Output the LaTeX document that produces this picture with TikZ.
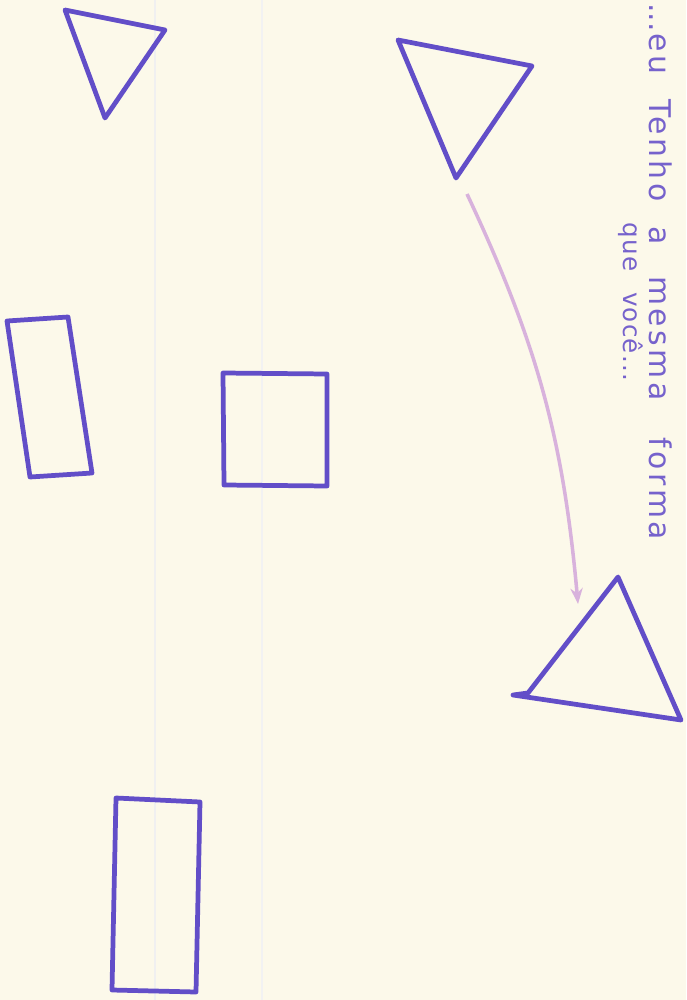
\documentclass[tikz,border=0pt]{standalone}
\usepackage{fontspec}
\setmainfont{DejaVu Sans}
\newfontfamily\hand[LetterSpace=12]{DejaVu Sans}
\newfontfamily\handsmall[LetterSpace=5]{DejaVu Sans}
\usetikzlibrary{arrows.meta}

\definecolor{paper}{RGB}{252,249,234}
\definecolor{ink}{RGB}{98,78,200}
\definecolor{pencil}{RGB}{118,98,204}
\definecolor{crayon}{RGB}{216,178,220}

\begin{document}
\begin{tikzpicture}[x=0.02cm, y=-0.02cm,
    shape line/.style={draw=ink, line width=2.7pt, line join=round, line cap=round},
    note/.style={text=pencil, rotate=-90, anchor=west, inner sep=0pt}]
    % sheet of paper
    \fill[paper] (0,0) rectangle (686,1000);
    \useasboundingbox (0,0) rectangle (686,1000);
    \draw[black!6, line width=0.6pt] (155,0) -- (155,1000);
    \draw[black!5, line width=0.6pt] (262,0) -- (262,1000);

    % handwritten note
    \node[note, font=\fontsize{17}{19}\selectfont] (line1) at (661,3)
      {...\hspace{0.04cm}{\hand eu}\hspace{0.5cm}{\hand Tenho}\hspace{0.5cm}{\hand a}\hspace{0.62cm}{\hand mesma}\hspace{0.74cm}{\hand forma}};
    \node[note, font=\fontsize{14}{16}\selectfont\handsmall] (line2) at (631,222)
      {que\hspace{0.42cm}você...};

    % triangles
    \draw[shape line] (65,10) -- (165,30) -- (105,118) -- cycle;
    \draw[shape line] (398,40) -- (532,66) -- (456,178) -- cycle;
    \draw[shape line] (618,577) -- (681,720) -- (513,695) -- (528,693) -- cycle;

    % rectangles
    \draw[shape line] (7,321) -- (68,317) -- (92,473) -- (30,477) -- cycle;
    \draw[shape line] (223,373) -- (327,374) -- (327,486) -- (224,485) -- cycle;
    \draw[shape line] (116,798) -- (200,802) -- (196,992) -- (112,990) -- cycle;

    % arrow from the top triangle to the bottom one
    \coordinate (from) at (467,194);
    \coordinate (to) at (578,604);
    \draw[crayon, line width=2pt, -{Stealth[length=9pt, width=7pt]}] (from) to[bend left=10] (to);
\end{tikzpicture}
\end{document}
